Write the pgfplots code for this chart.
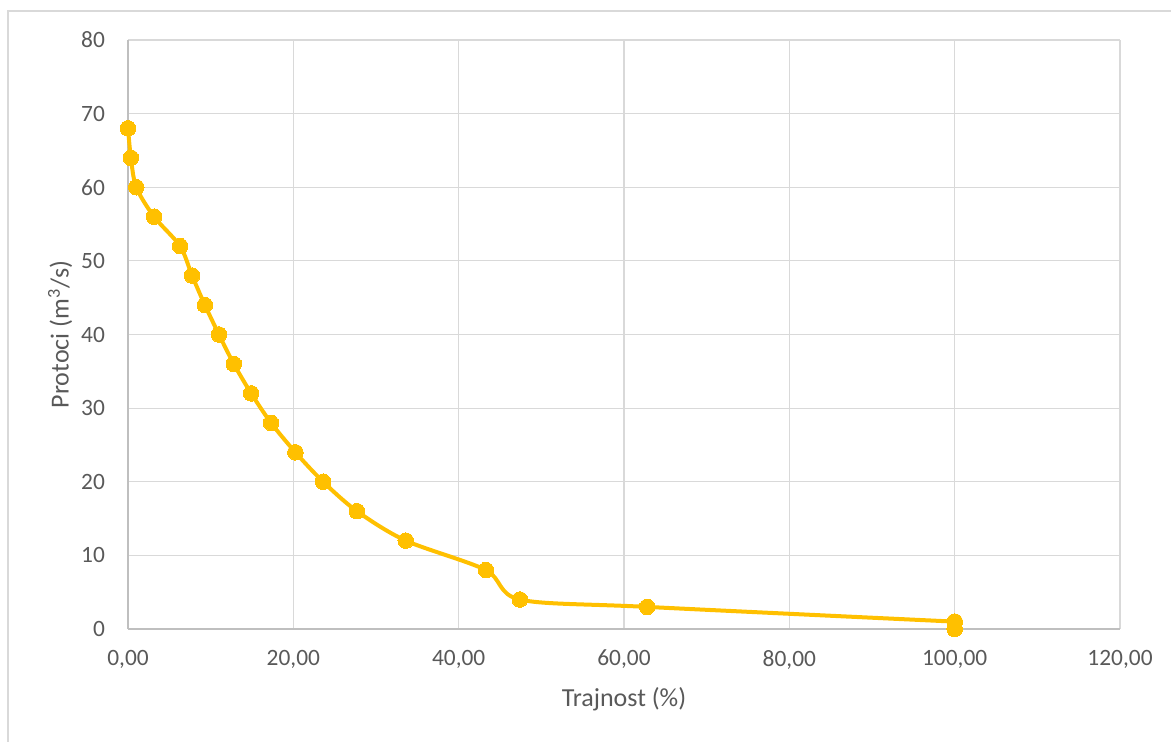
\documentclass[border=0pt]{standalone}
\usepackage{pgfplots}
\pgfplotsset{compat=1.18}
\usepackage{fontspec}
\setmainfont{Carlito}
\definecolor{gold}{HTML}{FFC000}
\definecolor{gridc}{HTML}{D9D9D9}
\definecolor{txt}{HTML}{595959}
\definecolor{axc}{HTML}{BFBFBF}
\begin{document}
\begin{tikzpicture}[x=1pt,y=1pt]
\useasboundingbox (0,0) rectangle (585.5,371);
\draw[gridc, line width=0.6pt] (4,0) -- (4,365.5) -- (585.5,365.5);
\begin{axis}[
  at={(64pt,56.5pt)}, anchor=south west,
  scale only axis, width=496pt, height=294.5pt,
  xmin=0, xmax=120, ymin=0, ymax=80,
  xtick={0,20,...,120}, ytick={0,10,...,80},
  axis lines*=left,
  grid=major, major grid style={gridc, line width=0.6pt},
  axis line style={axc, line width=0.6pt},
  tick style={draw=none},
  every tick label/.append style={font=\fontsize{11.7}{13}\selectfont, text=txt},
  xticklabel style={yshift=-7pt},
  yticklabel style={xshift=-8pt},
  /pgf/number format/assume math mode=true,
  xticklabel={\pgfmathprintnumber[fixed, fixed zerofill, precision=2, use comma]{\tick}},
  yticklabel={\pgfmathprintnumber[fixed, precision=0]{\tick}},
  scaled ticks=false,
  xlabel={Trajnost (\%)}, ylabel={Protoci (m\textsuperscript{3}/s)},
  every axis x label/.style={at={(axis description cs:0.5,-0.119)}, anchor=center, font=\fontsize{13}{15}\selectfont, text=txt},
  every axis y label/.style={at={(axis description cs:-0.0685,0.5)}, rotate=90, anchor=center, font=\fontsize{13}{15}\selectfont, text=txt},
  clip=false,
]
\addplot[gold, line width=2pt, smooth, tension=0.5, mark=*, mark size=3.9pt, mark options={fill=gold, draw=gold, line width=0pt}]
coordinates {
(0.0,68) (0.35,64) (1.0,60) (3.15,56) (6.3,52) (7.75,48) (9.3,44) (11.0,40)
(12.8,36) (14.9,32) (17.3,28) (20.25,24) (23.6,20) (27.7,16) (33.6,12)
(43.3,8) (47.4,4) (62.8,3) (100,1)
};
\addplot[gold, line width=2pt, mark=*, mark size=3.9pt, mark options={fill=gold, draw=gold, line width=0pt}]
coordinates {(100,1) (100,0)};
\end{axis}
\end{tikzpicture}
\end{document}
